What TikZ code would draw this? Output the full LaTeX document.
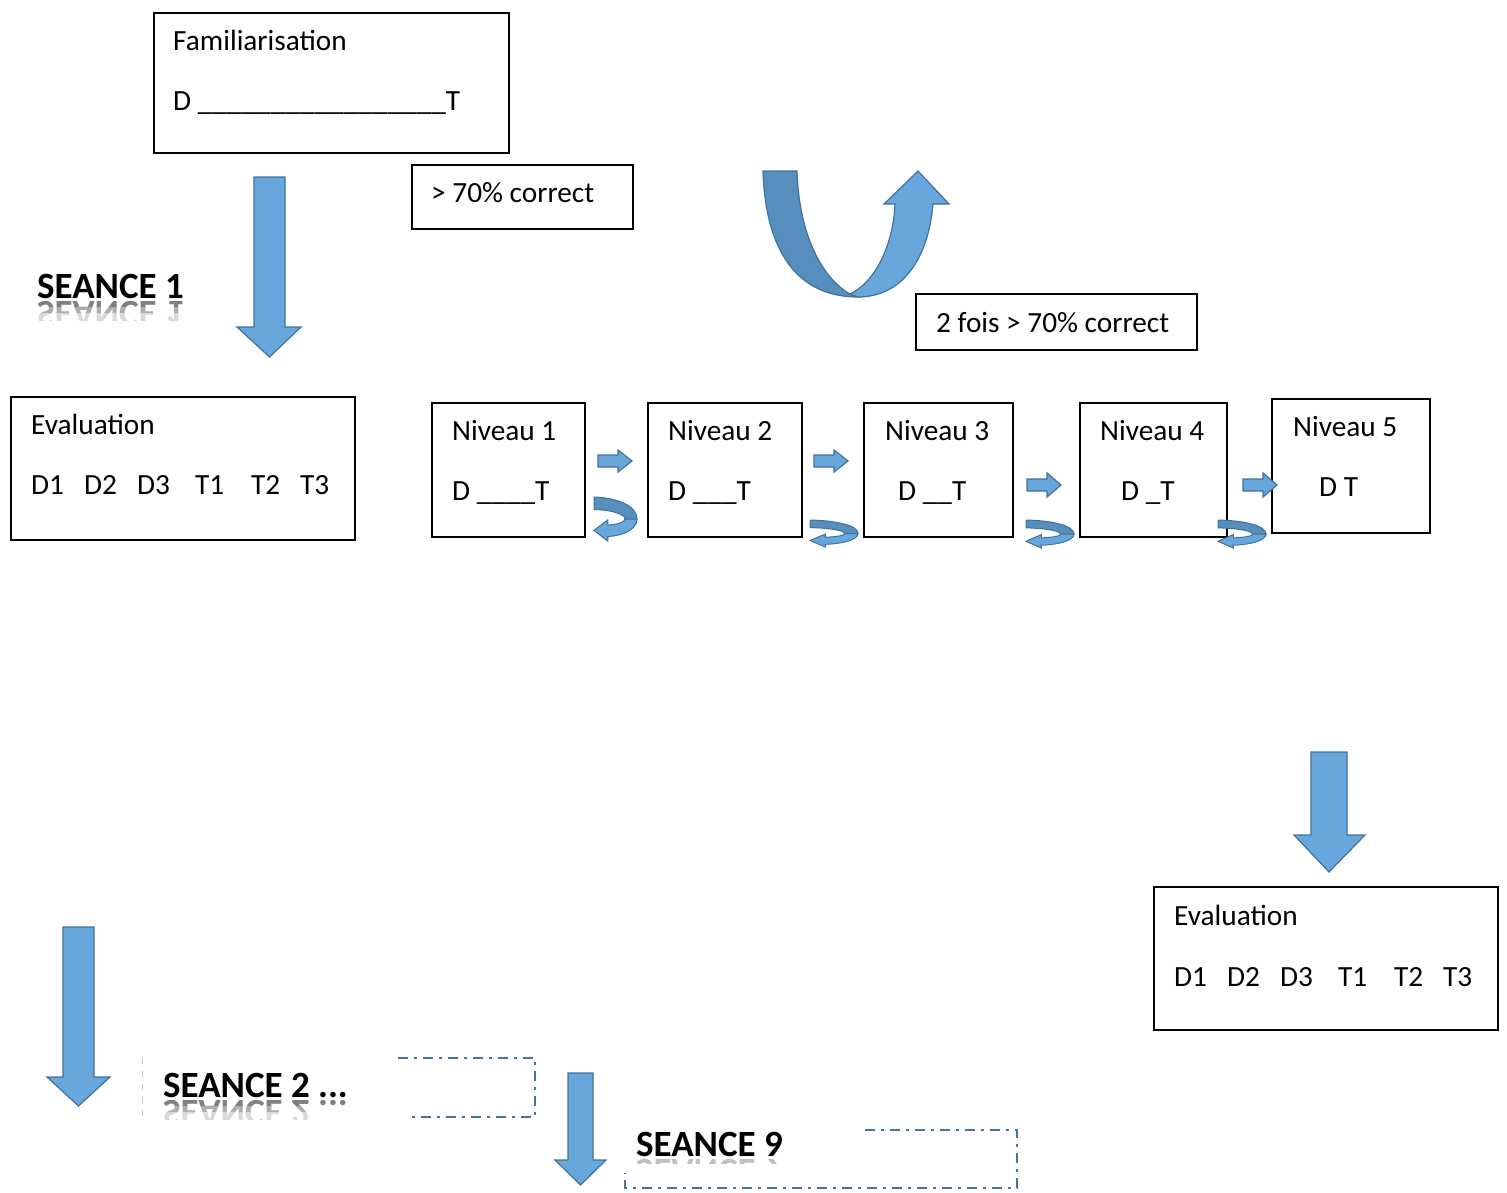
\documentclass[tikz,border=0pt]{standalone}
\usepackage{fontspec}
\setmainfont{Carlito}
\usepackage{graphicx}
\definecolor{afill}{RGB}{104,167,219}
\definecolor{aline}{RGB}{65,113,156}
\definecolor{adark}{RGB}{86,143,190}
\definecolor{ddcol}{RGB}{70,114,160}
\newcommand\txtfont{\fontsize{29.3}{35}\selectfont}
\newcommand\seancefont{\fontsize{37}{44}\selectfont\bfseries}
\newcommand\usc{\textunderscore}
\newcommand\darr[7]{\draw[blockarrow] (#1,#3) -- (#2,#3) -- (#2,#4) -- (#6,#4) -- ({(#1+#2)/2},#7) -- (#5,#4) -- (#1,#4) -- cycle;}
\newcommand\rarr[6]{\draw[blockarrow] (#1,#4-#5) -- (#2,#4-#5) -- (#2,#4-#6) -- (#3,#4) -- (#2,#4+#6) -- (#2,#4+#5) -- (#1,#4+#5) -- cycle;}
\newcommand\curv[4]{\begin{scope}[shift={(#1,#2)}, xscale=#3, yscale=#4]
 \draw[blockarrow, fill=adark, line width=1pt] (0,0) .. controls (0.55,0.02) and (1,0.2) .. (1,0.5) -- (0.72,0.5) .. controls (0.72,0.4) and (0.45,0.3) .. (0,0.28) -- cycle;
 \draw[blockarrow, line width=1pt] (1,0.5) .. controls (1,0.75) and (0.65,0.88) .. (0.32,0.9) -- (0.32,1) -- (0,0.76) -- (0.32,0.52) -- (0.32,0.64) .. controls (0.55,0.62) and (0.72,0.58) .. (0.72,0.5) -- cycle;
 \end{scope}}
\newcommand\myrefl[4]{%
 \foreach \a/\b/\c in {0/6/50,6/12/32,12/19/15}{%
  \begin{scope}\clip (#2-3,#3+3+\a) rectangle (#2+260,#3+3+\b);
  \node[seance, text=black!\c] (#1-\a) at (#2,#3+3) {\scalebox{1}[-1]{#4}};
  \end{scope}}}
\begin{document}
\begin{tikzpicture}[x=1pt,y=-1pt,
 box/.style={draw=black, line width=2pt, anchor=north west, inner sep=0pt, fill=white},
 lbl/.style={anchor=base west, inner sep=0pt, font=\txtfont},
 seance/.style={anchor=base west, inner sep=0pt, font=\seancefont},
 blockarrow/.style={fill=afill, draw=aline, line width=1.2pt, line join=miter},
 ddline/.style={draw=ddcol, line width=2.3pt, dash pattern=on 10pt off 6pt on 3pt off 6pt}]
\useasboundingbox (0,0) rectangle (1507,1192);

% boxes
\node[box, minimum width=355pt, minimum height=140pt] (famBox) at (153,12) {};
\node[box, minimum width=221pt, minimum height=64pt] (pctBox) at (411,164) {};
\node[box, minimum width=344pt, minimum height=143pt] (evalA) at (10,396) {};
\node[box, minimum width=153pt, minimum height=134pt] (n1) at (431,402) {};
\node[box, minimum width=154pt, minimum height=134pt] (n2) at (647,402) {};
\node[box, minimum width=149pt, minimum height=134pt] (n3) at (863,402) {};
\node[box, minimum width=147pt, minimum height=134pt] (n4) at (1079,402) {};
\node[box, minimum width=158pt, minimum height=134pt] (n5) at (1271,398) {};
\node[box, minimum width=281pt, minimum height=56pt] (foisBox) at (915,293) {};
\node[box, minimum width=344pt, minimum height=143pt] (evalB) at (1153,886) {};

% texts
\node[lbl] (famT) at (173,50) {Familiarisation};
\node[lbl] (famD) at (173,110) {D \usc\usc\usc\usc\usc\usc\usc\usc\usc\usc\usc\usc\usc\usc\usc\usc\usc T};
\node[lbl] (pctT) at (431,202) {> 70\% correct};
\node[lbl] (foisT) at (936,332) {2 fois > 70\% correct};
\node[lbl] (evalAT) at (31,434) {Evaluation};
\foreach \t/\x in {D1/31,D2/84,D3/137,T1/195,T2/251,T3/300}
  \node[lbl] (ea\t) at (\x,494) {\t};
\node[lbl] (evalBT) at (1174,925) {Evaluation};
\foreach \t/\x in {D1/1174,D2/1227,D3/1280,T1/1338,T2/1394,T3/1443}
  \node[lbl] (eb\t) at (\x,986) {\t};
\node[lbl] (n1T) at (452,440) {Niveau 1};
\node[lbl] (n1D) at (452,500) {D \usc\usc\usc\usc T};
\node[lbl] (n2T) at (668,440) {Niveau 2};
\node[lbl] (n2D) at (668,500) {D \usc\usc\usc T};
\node[lbl] (n3T) at (885,440) {Niveau 3};
\node[lbl] (n3D) at (898,500) {D \usc\usc T};
\node[lbl] (n4T) at (1100,440) {Niveau 4};
\node[lbl] (n4D) at (1121,500) {D \usc T};
\node[lbl] (n5T) at (1293,436) {Niveau 5};
\node[lbl] (n5D) at (1319,496) {D T};

% seance titles with reflections
\myrefl{s1r}{37}{298}{SEANCE 1}
\node[seance] (s1) at (37,298) {SEANCE 1};
\myrefl{s2r}{163}{1097}{SEANCE 2 ...}
\node[seance] (s2) at (163,1097) {SEANCE 2 ...};
\begin{scope}\clip (630,1158) rectangle (800,1163);
\node[seance, text=black!25] (s9r) at (636,1159) {\scalebox{1}[-1]{SEANCE 9}};
\end{scope}
\node[seance] (s9) at (636,1156) {SEANCE 9};

% dash-dot frames
\draw[ddline] (398,1058) -- (535,1058) -- (535,1117) -- (407,1117);
\draw[gray!45, line width=0.8pt, dash pattern=on 6pt off 7pt] (142,1058) -- (142,1118);
\draw[ddline] (865,1130) -- (1017,1130) -- (1017,1188) -- (625,1188) -- (625,1173);

% block down arrows
\darr{254}{285}{177}{327}{237}{301}{357}
\darr{1311}{1347}{752}{835}{1294}{1365}{872}
\darr{63}{94}{927}{1077}{47}{110}{1106}
\darr{568}{593}{1073}{1160}{555}{606}{1185}

% small right arrows
\rarr{598}{618}{632}{461}{6}{11}
\rarr{814}{834}{848}{461}{6}{11}
\rarr{1027}{1047}{1061}{485}{6}{12}
\rarr{1243}{1263}{1277}{485}{6}{12}

% small curved arrows
\curv{594}{497}{43}{44}
\curv{810}{520}{48}{27}
\curv{1026}{520}{48}{28}
\curv{1218}{520}{48}{28}

% U-turn arrow
\draw[blockarrow, fill=adark] (763,171) -- (797,171) .. controls (799,235) and (822,278) .. (850,294) -- (858,297) .. controls (790,297) and (765,240) .. (763,171) -- cycle;
\draw[blockarrow] (850,294) .. controls (872,284) and (893,250) .. (895,204) -- (884,204) -- (918,171) -- (949,204) -- (933,204) .. controls (928,262) and (900,297) .. (858,297) -- cycle;
\end{tikzpicture}
\end{document}
